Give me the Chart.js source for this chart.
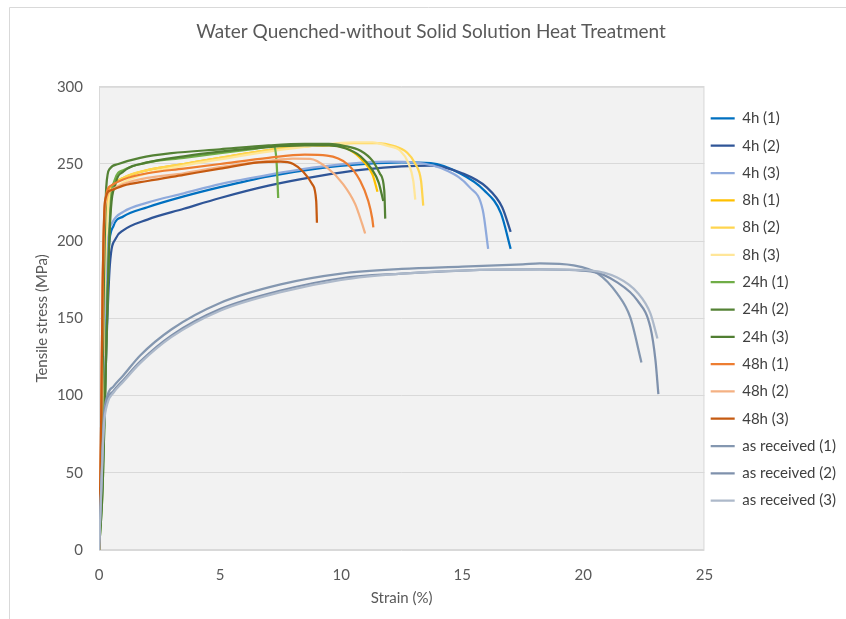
<!DOCTYPE html>
<html>
<head>
<meta charset="utf-8">
<script src="https://cdn.jsdelivr.net/npm/chart.js@4"></script>
<style>
  html, body { margin: 0; padding: 0; background: #fff; }
  canvas { display: block; }
</style>
</head>
<body>
<canvas id="myChart" width="846" height="619"></canvas>
<script>
// Strain (%) / tensile stress (MPa)
const strain4h1 = [0, 0.12, 0.25, 0.4, 0.6, 1, 2, 3.5, 5, 7, 9, 11, 12.5, 13.7, 14.9, 15.9, 16.6, 17.0];
const stress4h1 = [0, 50, 140, 195, 210, 216, 222, 229, 235, 242, 247, 250, 251, 250.5, 244, 233, 218, 195];
const strain4h2 = [0, 0.15, 0.3, 0.45, 0.7, 1, 2, 3.5, 5, 7, 9, 11, 12.5, 13.7, 15, 16, 16.65, 17.0];
const stress4h2 = [0, 50, 130, 185, 202, 207, 214, 221, 228, 236, 242, 246.5, 248.5, 249, 244, 235, 222, 206];
const strain4h3 = [0, 0.1, 0.22, 0.35, 0.55, 1, 2, 3.5, 5, 7, 9, 11, 12, 13, 14.4, 15.3, 15.85, 16.07];
const stress4h3 = [0, 50, 140, 198, 212, 219, 225, 231, 237, 243, 248, 251, 251.5, 251, 245.5, 235, 220, 195];

const strain8h1 = [0, 0.1, 0.2, 0.35, 0.6, 1, 2, 3.5, 5, 7, 8.5, 9.5, 10.3, 10.9, 11.3, 11.5];
const stress8h1 = [0, 60, 160, 225, 237, 241, 246, 250, 254, 259, 261.5, 262, 259.5, 252, 243, 232];
const strain8h2 = [0, 0.1, 0.2, 0.35, 0.6, 1, 2, 3.5, 5, 7, 9, 10.5, 11.5, 12.15, 12.73, 13.06, 13.3, 13.39];
const stress8h2 = [0, 60, 160, 222, 236, 241, 246, 250, 254, 259, 262, 263.5, 263.5, 261.8, 257.3, 250.2, 239, 223];
const strain8h3 = [0, 0.1, 0.2, 0.35, 0.6, 1, 2, 3.5, 5, 7, 9, 10.5, 11.3, 11.9, 12.44, 12.77, 12.98, 13.06];
const stress8h3 = [0, 55, 150, 218, 233, 238, 244, 249, 253, 258, 262, 264, 264, 261.8, 258.6, 250.8, 239, 227];

const strain24h1 = [0, 0.15, 0.3, 0.45, 0.66, 1, 2, 3.5, 5, 6.5, 7.2, 7.33, 7.4];
const stress24h1 = [0, 40, 130, 215, 240, 246, 251, 254, 257, 260, 261.5, 252, 228];
const strain24h2 = [0, 0.1, 0.2, 0.3, 0.45, 0.8, 1.7, 3, 5, 7, 8.5, 9.5, 10.1, 10.8, 11.3, 11.6, 11.78, 11.82];
const stress24h2 = [0, 60, 170, 235, 247, 250, 254, 257, 259.5, 262, 263, 263, 261.8, 258.6, 252, 243.7, 232.8, 214.6];
const strain24h3 = [0, 0.15, 0.3, 0.45, 0.7, 1, 2, 3.5, 5, 7, 8.5, 9.5, 10.2, 10.8, 11.25, 11.55, 11.74];
const stress24h3 = [0, 40, 130, 210, 238, 245, 251, 255, 258, 261, 262, 262, 260, 255, 247, 238, 226];

const strain48h1 = [0, 0.08, 0.15, 0.25, 0.5, 1, 2, 3.5, 5, 7, 8.5, 9.42, 10.25, 10.79, 11.12, 11.28, 11.33];
const stress48h1 = [0, 70, 170, 225, 236, 240, 244, 247, 250, 254, 256, 255.4, 250, 239, 226, 215, 209];
const strain48h2 = [0, 0.08, 0.15, 0.25, 0.5, 1, 2, 3.5, 5, 7, 8, 8.72, 9.42, 10.08, 10.58, 10.87, 10.99];
const stress48h2 = [0, 70, 165, 222, 233, 237, 241, 244, 248, 252, 253.5, 253.4, 247.6, 237, 224, 211, 205];
const strain48h3 = [0, 0.08, 0.15, 0.25, 0.5, 1, 2, 3.5, 5, 6.6, 7.5, 8.02, 8.43, 8.8, 8.97, 9.0];
const stress48h3 = [0, 70, 170, 226, 233, 236, 239, 243, 247, 251, 251.5, 250, 245, 237, 226, 212];

const strainAR1 = [0, 0.1, 0.2, 0.35, 0.6, 1, 1.7, 3, 5, 7.5, 10, 12.5, 15, 17.5, 18.2, 19.6, 20.6, 21.4, 21.94, 22.4];
const stressAR1 = [0, 45, 85, 100, 106, 113, 126, 143, 160, 172, 179, 182, 183.5, 185, 185.6, 184.3, 179, 166, 150.6, 121.5];
const strainAR2 = [0, 0.1, 0.2, 0.35, 0.6, 1, 1.7, 3, 5, 7.5, 10, 12.5, 15, 18.2, 20.3, 21.4, 22.23, 22.77, 22.98, 23.1];
const stressAR2 = [0, 42, 82, 97, 103, 110, 122, 139, 156, 168, 176, 179, 181, 181.7, 180.4, 173.3, 161.6, 144.2, 122.8, 100.9];
const strainAR3 = [0, 0.1, 0.2, 0.35, 0.6, 1, 1.7, 3, 5, 7.5, 10, 12.5, 15, 18.2, 20.3, 21.4, 22.23, 22.77, 23.06];
const stressAR3 = [0, 42, 80, 95, 102, 109, 121, 138, 155, 167, 175, 179, 181, 181.7, 181, 176.5, 166.8, 153.2, 137];

const seriesNames = ['4h (1)', '4h (2)', '4h (3)', '8h (1)', '8h (2)', '8h (3)',
  '24h (1)', '24h (2)', '24h (3)', '48h (1)', '48h (2)', '48h (3)',
  'as received (1)', 'as received (2)', 'as received (3)'];
const seriesStrain = [strain4h1, strain4h2, strain4h3, strain8h1, strain8h2, strain8h3,
  strain24h1, strain24h2, strain24h3, strain48h1, strain48h2, strain48h3,
  strainAR1, strainAR2, strainAR3];
const seriesStress = [stress4h1, stress4h2, stress4h3, stress8h1, stress8h2, stress8h3,
  stress24h1, stress24h2, stress24h3, stress48h1, stress48h2, stress48h3,
  stressAR1, stressAR2, stressAR3];
const seriesColors = ['#0070c0', '#2f5597', '#8faadc', '#ffc000', '#ffd54f', '#ffe699',
  '#70ad47', '#548235', '#507e32', '#ed7d31', '#f4b183', '#c55a11',
  '#8497b0', '#7f91ac', '#adb9ca'];

const textColor = '#595959';
const fontFamily = 'Lato, "Open Sans", sans-serif';

// later series are drawn on top (like the spreadsheet)
const datasets = seriesNames.map((name, i) => ({
  label: name,
  data: seriesStrain[i].map((x, j) => ({ x: x, y: seriesStress[i][j] })),
  borderColor: seriesColors[i],
  backgroundColor: seriesColors[i],
  borderWidth: 2.25,
  pointRadius: 0,
  showLine: true,
  fill: false,
  cubicInterpolationMode: 'monotone',
  order: seriesNames.length - i
}));

// light grey plot area, frame and outer border
const backdrop = {
  id: 'backdrop',
  afterLayout(chart) {
    // pull legend items a bit closer to the plot
    chart.legend.left -= 6;
    chart.legend.right -= 6;
  },
  beforeDraw(chart) {
    const { ctx, chartArea: a } = chart;
    ctx.save();
    ctx.fillStyle = '#ffffff';
    ctx.fillRect(0, 0, chart.width, chart.height);
    ctx.strokeStyle = '#d9d9d9';
    ctx.lineWidth = 1;
    ctx.beginPath();
    ctx.moveTo(9.5, chart.height + 2);
    ctx.lineTo(9.5, 7.5);
    ctx.lineTo(chart.width + 2, 7.5);
    ctx.stroke();
    ctx.fillStyle = '#f2f2f2';
    ctx.fillRect(a.left, a.top, a.right - a.left, a.bottom - a.top);
    ctx.strokeRect(a.left + 0.5, a.top + 0.5, a.right - a.left - 1, a.bottom - a.top - 1);
    ctx.restore();
  }
};

const ctx = document.getElementById('myChart').getContext('2d');
const myChart = new Chart(ctx, {
  type: 'scatter',
  data: { datasets: datasets },
  options: {
    responsive: false,
    animation: false,
    layout: { padding: { left: 10, right: -6, top: 0, bottom: 0 } },
    plugins: {
      title: {
        display: true,
        text: 'Water Quenched-without Solid Solution Heat Treatment',
        color: textColor,
        font: { family: fontFamily, size: 19, weight: 'normal' },
        padding: { top: 20, bottom: 44 }
      },
      legend: {
        position: 'right',
        labels: {
          color: '#404040',
          font: { family: fontFamily, size: 15 },
          usePointStyle: true,
          pointStyle: 'line',
          pointStyleWidth: 24,
          padding: 12.3,
          sort: (a, b) => a.datasetIndex - b.datasetIndex
        }
      },
      tooltip: { enabled: false }
    },
    scales: {
      x: {
        type: 'linear',
        min: 0,
        max: 25,
        ticks: { stepSize: 5, color: textColor, font: { family: fontFamily, size: 15 }, padding: 8 },
        grid: { display: false },
        border: { display: false },
        title: { display: true, text: 'Strain (%)', color: textColor, font: { family: fontFamily, size: 15 }, padding: { top: 0, bottom: 12 } },
        afterFit(scale) { scale.height = 69; }
      },
      y: {
        type: 'linear',
        min: 0,
        max: 300,
        ticks: { stepSize: 50, color: textColor, font: { family: fontFamily, size: 15 }, padding: 16 },
        grid: { color: '#d9d9d9', drawTicks: false },
        border: { display: false },
        title: { display: true, text: 'Tensile stress (MPa)', color: textColor, font: { family: fontFamily, size: 15 }, padding: { top: 23, bottom: 0 } },
        afterFit(scale) { scale.width = 89; }
      }
    }
  },
  plugins: [backdrop]
});
</script>
</body>
</html>
